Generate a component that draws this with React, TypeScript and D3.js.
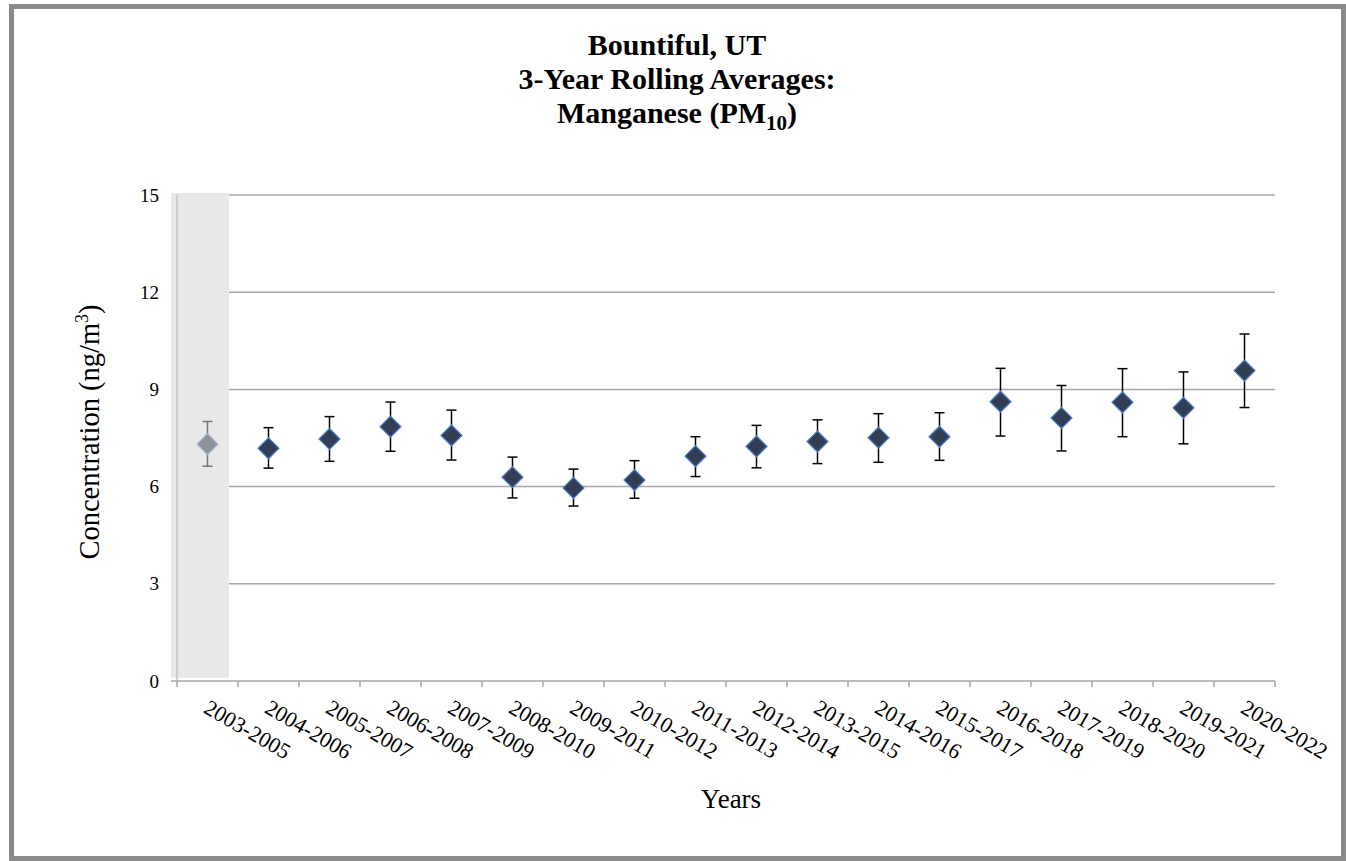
import React from "react";
import * as d3 from "d3";

const categories = [
  "2003-2005", "2004-2006", "2005-2007", "2006-2008", "2007-2009", "2008-2010",
  "2009-2011", "2010-2012", "2011-2013", "2012-2014", "2013-2015", "2014-2016",
  "2015-2017", "2016-2018", "2017-2019", "2018-2020", "2019-2021", "2020-2022",
];
const means = [7.31, 7.18, 7.47, 7.85, 7.58, 6.29, 5.96, 6.2, 6.94, 7.24, 7.39, 7.51, 7.54, 8.62, 8.12, 8.6, 8.43, 9.58];
const lower = [6.63, 6.57, 6.78, 7.09, 6.82, 5.65, 5.4, 5.64, 6.31, 6.58, 6.71, 6.75, 6.81, 7.56, 7.1, 7.54, 7.32, 8.44];
const upper = [8.01, 7.82, 8.16, 8.61, 8.36, 6.91, 6.54, 6.8, 7.54, 7.89, 8.06, 8.25, 8.28, 9.65, 9.12, 9.64, 9.54, 10.71];
const shadedCategories = ["2003-2005"];
const yTicks = [0, 3, 6, 9, 12, 15];

const W = 1346;
const H = 861;
const plotLeft = 177;
const plotRight = 1275;
const plotTop = 195;
const plotBottom = 681;
const serif = "'Liberation Serif', 'Times New Roman', serif";

export default function App() {
  const x = d3.scaleBand<string>().domain(categories).range([plotLeft, plotRight]).padding(0);
  const y = d3.scaleLinear().domain([0, 15]).range([plotBottom, plotTop]);
  const bw = x.bandwidth();
  const cx = (c: string) => (x(c) as number) + bw / 2;
  const r = 10.5;
  const dPath = `M0,${-r}L${r},0L0,${r}L${-r},0Z`;

  const boundaries = categories.map((c) => x(c) as number).concat([plotRight]);

  return (
    <svg width={W} height={H} style={{ position: "absolute", left: 0, top: 0, background: "#fff" }}>
      <rect x={11.5} y={6.5} width={1332} height={852} fill="#fff" stroke="#8a8a8a" strokeWidth={5} />

      {/* title */}
      <g fontFamily={serif} fontWeight="bold" fontSize={30} textAnchor="middle">
        <text x={677} y={55}>Bountiful, UT</text>
        <text x={677} y={88.5}>3-Year Rolling Averages:</text>
        <text x={677} y={122.5}>
          Manganese (PM<tspan fontSize={21} dy={7}>10</tspan><tspan dy={-7}>)</tspan>
        </text>
      </g>

      {/* gridlines */}
      {yTicks.filter((t) => t > 0).map((t) => (
        <line key={t} x1={plotLeft} x2={plotRight} y1={y(t)} y2={y(t)} stroke="#a6a6a6" strokeWidth={1.5} />
      ))}

      {/* shaded band */}
      {shadedCategories.map((c) => (
        <rect key={c} x={(x(c) as number) - 6} y={plotTop - 2} width={bw - 3} height={plotBottom - plotTop - 1} fill="#e8e8e8" />
      ))}

      {/* axes */}
      <line x1={plotLeft} x2={plotLeft} y1={plotTop} y2={plotBottom} stroke="#c4c4c4" strokeWidth={1.5} />
      <line x1={plotLeft - 6} x2={plotRight} y1={plotBottom} y2={plotBottom} stroke="#a6a6a6" strokeWidth={1.5} />
      {boundaries.map((b, i) => (
        <line key={i} x1={b} x2={b} y1={plotBottom} y2={plotBottom + 6} stroke="#a6a6a6" strokeWidth={1.5} />
      ))}

      {/* y tick labels */}
      {yTicks.map((t) => (
        <text key={t} x={159} y={y(t) + 6.5} textAnchor="end" fontFamily={serif} fontSize={19}>
          {t}
        </text>
      ))}

      {/* x tick labels */}
      {categories.map((c) => (
        <text
          key={c}
          transform={`translate(${cx(c) - 5},${plotBottom + 31}) rotate(30)`}
          fontFamily={serif}
          fontSize={22}
        >
          {c}
        </text>
      ))}

      {/* axis titles */}
      <text transform={`translate(99,432) rotate(-90)`} textAnchor="middle" fontFamily={serif} fontSize={28.5}>
        Concentration (ng/m<tspan fontSize={18} dy={-11}>3</tspan><tspan dy={11}>)</tspan>
      </text>
      <text x={731} y={808} textAnchor="middle" fontFamily={serif} fontSize={27}>
        Years
      </text>

      {/* error bars & points */}
      {categories.map((c, i) => {
        const shaded = shadedCategories.includes(c);
        const barColor = shaded ? "#777" : "#000";
        const px = cx(c);
        return (
          <g key={c}>
            <line x1={px} x2={px} y1={y(lower[i])} y2={y(upper[i])} stroke={barColor} strokeWidth={1.5} />
            <line x1={px - 5} x2={px + 5} y1={y(lower[i])} y2={y(lower[i])} stroke={barColor} strokeWidth={1.5} />
            <line x1={px - 5} x2={px + 5} y1={y(upper[i])} y2={y(upper[i])} stroke={barColor} strokeWidth={1.5} />
            <path
              d={dPath}
              transform={`translate(${px},${y(means[i])})`}
              fill={shaded ? "#8d9198" : "#323e54"}
              stroke={shaded ? "#a9b8d3" : "#4f7fd0"}
              strokeWidth={1.2}
            />
          </g>
        );
      })}
    </svg>
  );
}
